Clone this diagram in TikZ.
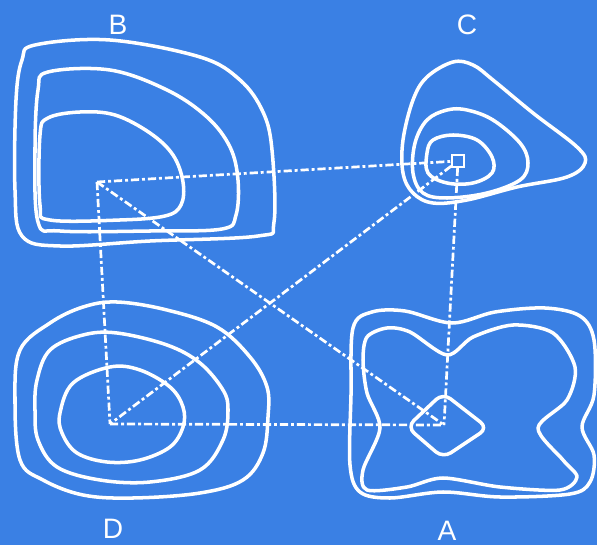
\documentclass[tikz,border=0pt]{standalone}
\usepackage{fontspec}
\setmainfont{Liberation Sans}
\usetikzlibrary{positioning}
\definecolor{mapblue}{RGB}{58,128,228}

\begin{document}
\begin{tikzpicture}[
      x=0.03cm, y=-0.03cm,
      contour/.style={draw=white, line width=3pt, line join=round},
      link/.style={draw=white, line width=2.3pt, dash pattern=on 7pt off 2.5pt on 2.5pt off 2.5pt},
      letter/.style={text=white, font=\fontsize{24}{24}\selectfont, inner sep=0pt}
      ]

      % Background
      \fill[mapblue] (0,0) rectangle (597,545);
      \useasboundingbox (0,0) rectangle (597,545);

      % Centres
      \coordinate (cB) at (97,182);
      \coordinate (cD) at (110,424);
      \coordinate (cA) at (444,425);
      \node (markC) [draw=white, line width=1.6pt, minimum size=10pt, inner sep=0pt] at (458,161) {};

      % Labels
      \node (labB) [letter] at (118,25) {B};
      \node (labC) [letter] at (467,25) {C};
      \node (labD) [letter] at (113,529) {D};
      \node (labA) [letter] at (447,531) {A};

      % Contours B
      \draw[contour] plot[smooth cycle, tension=0.6] coordinates {(35,45) (110,40) (200,57) (240,80) (263,112) (272,150) (274,222) (258,236) (150,241) (60,246) (22,236) (15,190) (16,100) (22,60)};
      \draw[contour] plot[smooth cycle, tension=0.6] coordinates {(48,72) (110,70) (167,90) (207,117) (230,147) (238,180) (236,215) (222,229) (150,231) (60,231) (38,222) (35,150) (38,90)};
      \draw[contour] plot[smooth cycle, tension=0.6] coordinates {(48,118) (80,112) (115,115) (150,133) (173,155) (183,182) (181,205) (165,216) (120,220) (50,220) (40,205) (40,135)};

      % Contours C
      \draw[contour] plot[smooth cycle, tension=0.6] coordinates {(453,62) (427,77) (413,100) (403,140) (403,173) (413,193) (433,203) (467,200) (517,187) (567,177) (585,163) (577,147) (533,113) (493,80) (473,65)};
      \draw[contour] plot[smooth cycle, tension=0.6] coordinates {(447,110) (427,120) (415,143) (413,173) (423,193) (447,198) (487,193) (520,180) (528,163) (520,143) (493,120) (467,110)};
      \draw[contour] plot[smooth cycle, tension=0.6] coordinates {(433,140) (453,135) (477,140) (492,157) (492,173) (473,183) (447,183) (428,173) (427,153)};

      % Contours D
      \draw[contour] plot[smooth cycle, tension=0.6] coordinates {(15,400) (20,350) (50,323) (83,307) (117,302) (167,310) (217,327) (250,357) (267,387) (268,417) (263,453) (243,480) (200,493) (133,498) (83,495) (43,480) (20,460)};
      \draw[contour] plot[smooth cycle, tension=0.6] coordinates {(37,380) (50,350) (83,335) (117,333) (167,345) (200,363) (223,390) (228,410) (223,440) (200,470) (150,482) (100,480) (57,467) (38,440) (35,410)};
      \draw[contour] plot[smooth cycle, tension=0.6] coordinates {(60,413) (73,383) (110,367) (140,370) (170,387) (183,407) (183,427) (170,447) (140,460) (107,462) (77,453) (62,433)};

      % Contours A
      \draw[contour] plot[smooth cycle, tension=0.55] coordinates {(353,328) (372,312) (405,311) (452,323) (495,312) (545,308) (580,316) (594,340) (594,395) (582,427) (594,455) (590,482) (570,494) (500,497) (443,492) (390,498) (360,492) (350,465) (351,395)};
      \draw[contour] plot[smooth cycle, tension=0.5] coordinates {(367,337) (387,328) (410,332) (447,355) (473,337) (513,325) (553,333) (575,367) (567,400) (538,428) (563,460) (577,477) (560,490) (500,487) (443,478) (407,487) (367,490) (363,470) (380,428) (367,393) (363,360)};
      \draw[contour, rounded corners=8pt] (443,393) -- (488,428) -- (443,458) -- (407,427) -- cycle;

      % Links
      \draw[link] (cB) -- (markC);
      \draw[link] (cB) -- (cD);
      \draw[link] (cB) -- (cA);
      \draw[link] (markC) -- (cA);
      \draw[link] (markC) -- (cD);
      \draw[link] (cD) -- (cA);

    \end{tikzpicture}
\end{document}
